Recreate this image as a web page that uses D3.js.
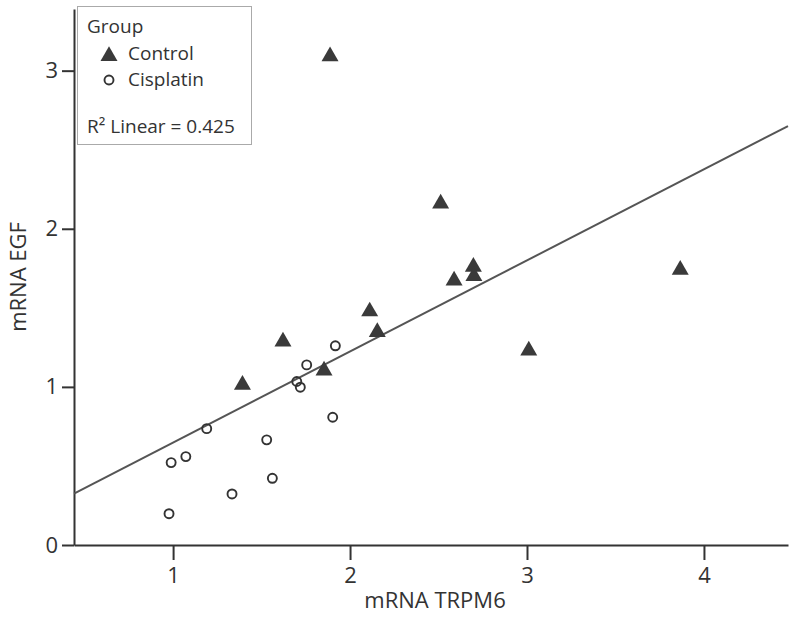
<!DOCTYPE html>
<html>
<head>
<meta charset="utf-8">
<script src="https://cdn.jsdelivr.net/npm/d3@7"></script>
<style>
  html, body { margin: 0; padding: 0; background: #fff; }
  svg { display: block; }
  text { font-family: "Open Sans", "Noto Sans", sans-serif; fill: #333; }
</style>
</head>
<body>
<svg id="chart" width="796" height="617"></svg>
<script>
// ---- Data ----
const groups = ["Control", "Cisplatin"];
const controlX = [1.887, 2.512, 3.866, 2.697, 2.700, 2.588, 2.111, 2.154, 3.010, 1.392, 1.621, 1.853];
const controlY = [3.090, 2.160, 1.740, 1.760, 1.700, 1.673, 1.477, 1.346, 1.230, 1.013, 1.287, 1.103];
const cisplatinX = [1.917, 1.755, 1.699, 1.719, 1.902, 1.190, 1.529, 1.072, 0.989, 1.561, 1.333, 0.977];
const cisplatinY = [1.260, 1.139, 1.034, 0.998, 0.808, 0.736, 0.665, 0.559, 0.521, 0.422, 0.323, 0.198];
const xTicks = [1, 2, 3, 4];
const yTicks = [0, 1, 2, 3];
const xDomain = [0.44, 4.475];
const yDomain = [0, 3.39];
const r2Label = "R\u00B2 Linear = 0.425";
const xTitle = "mRNA TRPM6";
const yTitle = "mRNA EGF";
const legendTitle = "Group";

// ---- Layout ----
const svg = d3.select("#chart");
const mLeft = 74, mRight = 788, mTop = 9, mBottom = 545;
const x = d3.scaleLinear().domain(xDomain).range([mLeft, mRight]);
const y = d3.scaleLinear().domain(yDomain).range([mBottom, mTop]);
const ink = "#333";

const control = controlX.map((v, i) => ({ x: v, y: controlY[i] }));
const cisplatin = cisplatinX.map((v, i) => ({ x: v, y: cisplatinY[i] }));
const all = control.concat(cisplatin);

// least squares fit over all points
const mx = d3.mean(all, d => d.x), my = d3.mean(all, d => d.y);
const sxy = d3.sum(all, d => (d.x - mx) * (d.y - my));
const sxx = d3.sum(all, d => (d.x - mx) ** 2);
const slope = sxy / sxx, intercept = my - slope * mx;

// ---- Axes ----
const xAxis = svg.append("g").attr("transform", `translate(0,${mBottom})`)
  .call(d3.axisBottom(x).tickValues(xTicks).tickFormat(d3.format("d")).tickSize(15).tickSizeOuter(0));
const yAxis = svg.append("g").attr("transform", `translate(${mLeft},0)`)
  .call(d3.axisLeft(y).tickValues(yTicks).tickFormat(d3.format("d")).tickSize(12).tickSizeOuter(0));
[xAxis, yAxis].forEach(g => {
  g.select(".domain").attr("stroke", ink).attr("stroke-width", 2);
  g.selectAll(".tick line").attr("stroke", ink).attr("stroke-width", 2);
  g.selectAll(".tick text").style("font-size", "22px").attr("fill", ink)
   .style("font-family", '"Open Sans", sans-serif');
});
xAxis.selectAll(".tick text").attr("y", 19).attr("dy", "0.85em");
yAxis.selectAll(".tick text").attr("x", -16);

// Axis titles
svg.append("text").attr("x", (mLeft + mRight) / 2 + 4).attr("y", 608)
  .attr("text-anchor", "middle").style("font-size", "22px").text(xTitle);
svg.append("text").attr("transform", `translate(26,${(mTop + mBottom) / 2}) rotate(-90)`)
  .attr("text-anchor", "middle").style("font-size", "22px").text(yTitle);

// ---- Fit line ----
svg.append("line")
  .attr("x1", x(xDomain[0])).attr("y1", y(intercept + slope * xDomain[0]))
  .attr("x2", x(xDomain[1])).attr("y2", y(intercept + slope * xDomain[1]))
  .attr("stroke", "#555").attr("stroke-width", 2);

// ---- Points ----
const tri = d3.symbol().type(d3.symbolTriangle).size(125);
svg.append("g").selectAll("path").data(control).join("path")
  .attr("d", tri).attr("transform", d => `translate(${x(d.x)},${y(d.y)})`)
  .attr("fill", "#3a3a3a");
svg.append("g").selectAll("circle").data(cisplatin).join("circle")
  .attr("cx", d => x(d.x)).attr("cy", d => y(d.y)).attr("r", 4.5)
  .attr("fill", "none").attr("stroke", "#333").attr("stroke-width", 1.9);

// ---- Legend ----
const lg = svg.append("g");
lg.append("rect").attr("x", 77.5).attr("y", 6.5).attr("width", 174).attr("height", 138)
  .attr("fill", "#fff").attr("stroke", "#aaa").attr("stroke-width", 1);
lg.append("text").attr("x", 87).attr("y", 33).style("font-size", "19px").text(legendTitle);
lg.append("path").attr("d", tri).attr("transform", "translate(109,56)").attr("fill", "#3a3a3a");
lg.append("text").attr("x", 128).attr("y", 60).style("font-size", "19px").text(groups[0]);
lg.append("circle").attr("cx", 109).attr("cy", 80).attr("r", 4.5)
  .attr("fill", "none").attr("stroke", "#333").attr("stroke-width", 1.9);
lg.append("text").attr("x", 128).attr("y", 86).style("font-size", "19px").text(groups[1]);
lg.append("text").attr("x", 87).attr("y", 133).style("font-size", "19px").text(r2Label);
</script>
</body>
</html>
